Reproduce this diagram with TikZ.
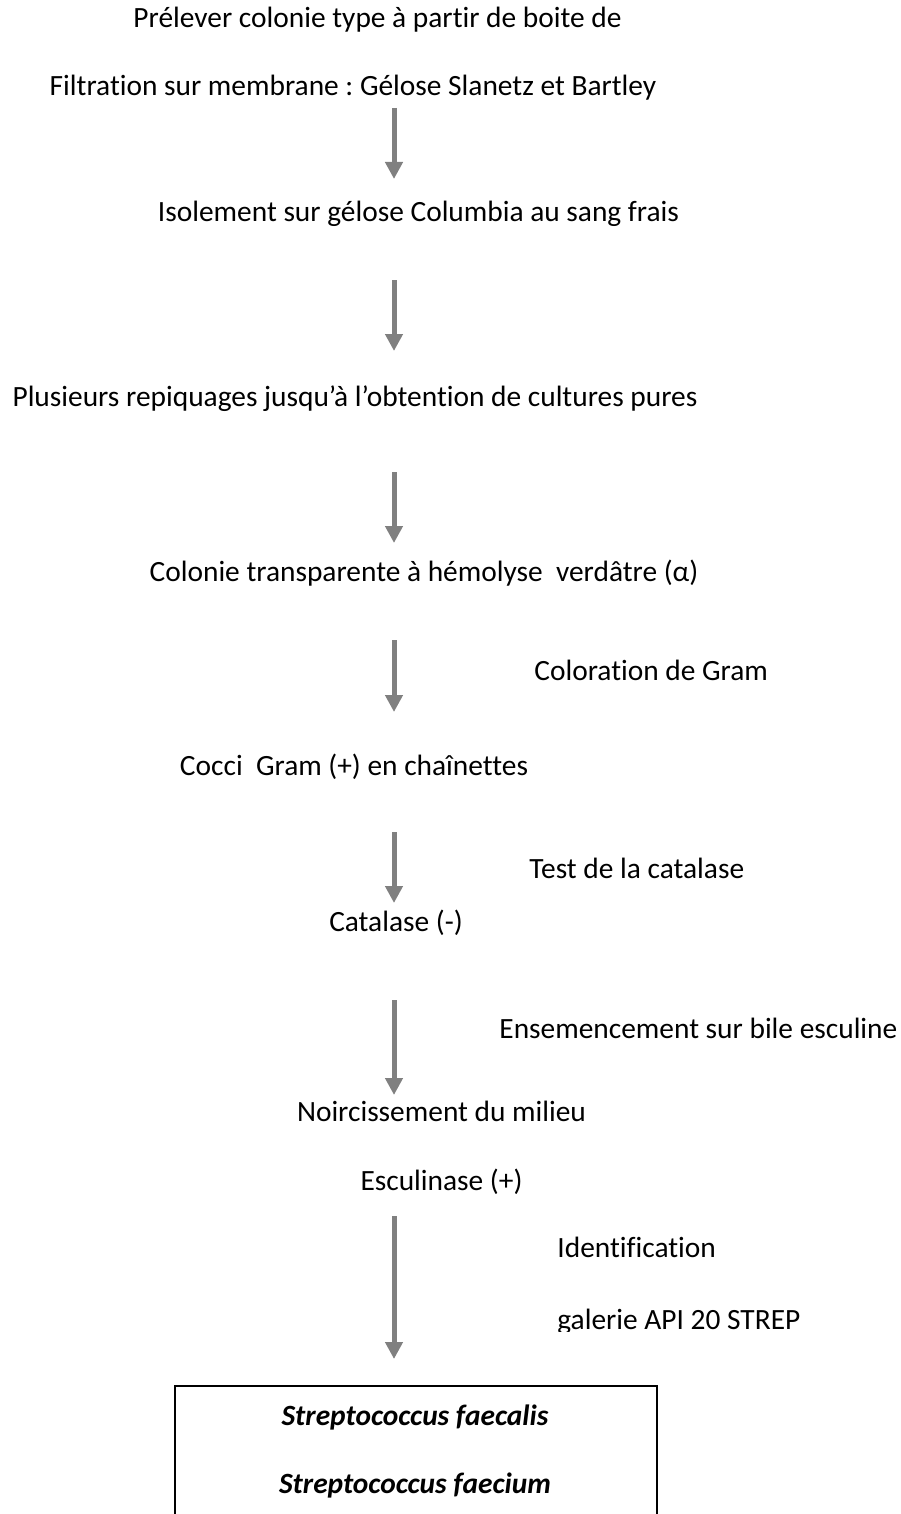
\documentclass[tikz,border=0pt]{standalone}
\usepackage{fontspec}
\setmainfont{Carlito}[Ligatures=NoCommon]
\usetikzlibrary{arrows.meta}
\frenchspacing
\tikzset{
  txt/.style={anchor=base, inner sep=0pt, font=\fontsize{14.7pt}{17pt}\selectfont},
  ltxt/.style={anchor=base west, inner sep=0pt, font=\fontsize{14.7pt}{17pt}\selectfont},
  species/.style={anchor=base, inner sep=0pt, font=\fontsize{14.7pt}{17pt}\selectfont\bfseries\itshape},
  flow/.style={draw=arrowgray, line width=2.5pt, -{Triangle[width=8.5pt,length=8.5pt]}},
  resultbox/.style={draw=black, line width=0.6pt}
}
\definecolor{arrowgray}{RGB}{128,128,128}
\begin{document}
\begin{tikzpicture}[x=0.5pt,y=-0.5pt]
\clip (0,0) rectangle (900,1514);
\useasboundingbox (0,0) rectangle (900,1514);

\node[txt] (pre) at (377.5,28) {Prélever colonie type à partir de boite de};
\node[txt] (fil) at (353,96) {Filtration sur membrane : Gélose Slanetz et Bartley};
\node[txt] (iso) at (418.5,221) {Isolement sur gélose Columbia au sang frais};
\node[txt] (plu) at (355,406) {Plusieurs repiquages jusqu’à l’obtention de cultures pures};
\node[txt] (col) at (424,581) {Colonie transparente à hémolyse\ \ verdâtre (α)};
\node[ltxt] (gram) at (534,680) {Coloration de Gram};
\node[txt] (coc) at (354,775) {Cocci\ \ Gram (+) en chaînettes};
\node[ltxt] (test) at (529,878) {Test de la catalase};
\node[txt] (cat) at (396,931) {Catalase (-)};
\node[ltxt] (ens) at (499,1038) {Ensemencement sur bile esculine};
\node[txt] (noi) at (441.5,1121) {Noircissement du milieu};
\node[txt] (esc) at (441.5,1190) {Esculinase (+)};
\node[ltxt] (ident) at (557,1257) {Identification};
\begin{scope}
\clip (0,0) rectangle (900,1331);
\node[ltxt] (gal) at (557,1329) {galerie API 20 STREP};
\end{scope}

\coordinate (b1) at (175,1386);
\coordinate (b2) at (657,1530);
\draw[resultbox] (b1) rectangle (b2);
\node[species] (sp1) at (415,1425) {Streptococcus faecalis};
\node[species] (sp2) at (415,1493) {Streptococcus faecium};

\coordinate (a1s) at (394,108);  \coordinate (a1e) at (394,179);
\coordinate (a2s) at (394,280);  \coordinate (a2e) at (394,351);
\coordinate (a3s) at (394,472);  \coordinate (a3e) at (394,543);
\coordinate (a4s) at (394,640);  \coordinate (a4e) at (394,712);
\coordinate (a5s) at (394,832);  \coordinate (a5e) at (394,903);
\coordinate (a6s) at (394,1000); \coordinate (a6e) at (394,1095);
\coordinate (a7s) at (394,1216); \coordinate (a7e) at (394,1359);
\draw[flow] (a1s) -- (a1e);
\draw[flow] (a2s) -- (a2e);
\draw[flow] (a3s) -- (a3e);
\draw[flow] (a4s) -- (a4e);
\draw[flow] (a5s) -- (a5e);
\draw[flow] (a6s) -- (a6e);
\draw[flow] (a7s) -- (a7e);
\end{tikzpicture}
\end{document}
